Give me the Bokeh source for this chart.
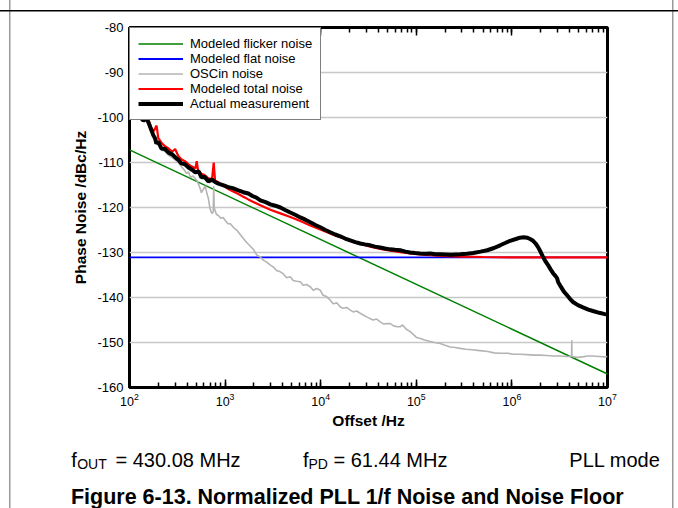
from bokeh.plotting import figure
from bokeh.models import (Range1d, LogAxis, LogTicker, FixedTicker, Legend, LegendItem, Label,
                          PrintfTickFormatter)
from bokeh.layouts import column
from bokeh.embed import file_html
from bokeh.resources import INLINE

# ---------------- data ----------------
flicker_f = [1e2, 1e7]
flicker_db = [-107.2, -157.0]

flat_f = [1e2, 1e7]
flat_db = [-131.1, -131.1]

oscin_f = [100, 115, 130, 140, 150, 160, 170, 180, 191, 205, 216, 235, 256, 280, 303, 325, 349,
           372, 394, 415, 433, 460, 490, 510, 527, 545, 565, 590, 622, 645, 669, 690, 703, 730,
           752, 760, 770, 785, 810, 851, 900, 950, 1007, 1070, 1135, 1230, 1333, 1440, 1553,
           1700, 1837, 1990, 2150, 2339, 2509, 2750, 2974, 3182, 3450, 3783, 4050, 4400, 4811,
           5150, 5600, 6118, 6560, 7100, 7781, 8350, 9100, 9900, 10600, 11500, 12590, 13500,
           14800, 16020, 17200, 18700, 20370, 21900, 23800, 25920, 27800, 30200, 32970, 35400,
           38500, 41950, 45600, 49800, 53350, 58000, 63400, 67870, 72000, 78000, 86330, 93000,
           101000, 109800, 120000, 130000, 139700, 155000, 177800, 200000, 226000, 255000,
           287700, 330000, 380000, 465000, 560000, 650000, 753400, 900000, 1.05e6, 1.218e6,
           1.45e6, 1.7e6, 1.97e6, 2.3e6, 2.7e6, 3.19e6, 3.7e6, 4.21e6, 4.23e6, 4.25e6, 4.8e6,
           5.5e6, 6.2e6, 7.0e6, 8.2e6, 9.4e6, 1.0e7]
oscin_db = [-96.8, -98.6, -100.2, -100.9, -100.6, -101.6, -103.0, -104.2, -105.4, -106.2,
            -107.2, -107.5, -108.4, -108.9, -109.5, -110.1, -110.9, -111.6, -112.4, -112.1,
            -113.3, -113.0, -113.6, -114.1, -114.8, -115.6, -116.7, -116.0, -115.2, -116.9,
            -118.0, -119.8, -120.6, -121.3, -121.0, -115.3, -120.2, -120.6, -121.5, -121.8,
            -122.4, -122.2, -122.9, -123.6, -123.6, -124.5, -125.1, -126.0, -126.9, -127.9,
            -128.6, -129.4, -130.6, -131.0, -131.7, -132.2, -132.8, -133.2, -134.0, -134.3,
            -134.7, -135.6, -135.4, -136.2, -136.4, -136.5, -137.3, -137.1, -137.6, -138.4,
            -138.0, -138.4, -139.5, -139.8, -140.6, -141.4, -141.2, -142.1, -142.4, -142.2,
            -142.8, -143.2, -143.0, -143.5, -143.9, -144.3, -144.7, -145.0, -144.8, -145.4,
            -145.9, -145.8, -145.8, -146.3, -146.5, -146.5, -146.1, -147.0, -147.6, -148.2,
            -148.9, -149.1, -149.4, -149.6, -149.8, -150.0, -150.2, -150.6, -151.0, -151.1,
            -151.3, -151.5, -151.6, -151.8, -152.0, -152.3, -152.4, -152.4, -152.6, -152.6,
            -152.7, -152.8, -152.8, -152.9, -153.0, -153.0, -153.1, -153.1, -149.5, -153.1,
            -153.3, -153.2, -153.0, -153.0, -153.1, -153.2, -153.1]

total_f = [100, 115, 130, 140, 150, 160, 170, 180, 192, 200, 216, 235, 256, 280, 300, 325, 349,
           380, 414, 450, 490, 505, 520, 565, 610, 669, 730, 760, 785, 850, 915, 1000, 1083,
           1200, 1376, 1550, 1751, 1950, 2339, 2974, 3783, 4811, 6118, 7781, 9900, 12590,
           16020, 20370, 25920, 32970, 41950, 53350, 67870, 86330, 109800, 139700, 200000,
           300000, 500000, 1e6, 1e7]
total_db = [-96.3, -98.0, -99.5, -100.2, -99.8, -100.9, -102.4, -103.0, -101.8, -104.6,
            -105.6, -106.4, -106.9, -107.6, -107.0, -108.6, -109.3, -109.7, -110.4, -110.9,
            -111.3, -109.7, -111.6, -112.5, -112.8, -113.5, -113.7, -110.0, -114.0, -114.4,
            -114.9, -115.4, -115.9, -116.4, -117.0, -117.6, -118.2, -118.7, -119.5, -120.5,
            -121.3, -122.1, -123.0, -124.0, -124.9, -125.8, -126.6, -127.3, -128.1, -128.7,
            -129.2, -129.6, -129.9, -130.2, -130.4, -130.6, -130.8, -130.9, -131.0, -131.1,
            -131.1]

meas_f = [100, 115, 130, 140, 150, 158, 168, 178, 185, 191, 200, 216, 235, 256, 280, 303, 325,
          349, 380, 414, 450, 490, 530, 565, 610, 669, 730, 793, 850, 915, 1000, 1083, 1200,
          1376, 1550, 1751, 1950, 2124, 2339, 2650, 2974, 3350, 3783, 4300, 4811, 5400, 6118,
          6900, 7781, 8800, 9900, 11200, 12590, 14200, 16020, 18000, 20370, 23000, 25920,
          29000, 32970, 37000, 41950, 47000, 53350, 60000, 67870, 77000, 86330, 97000, 109800,
          125000, 139700, 158000, 177800, 230000, 287700, 340000, 393700, 470000, 551000,
          650000, 753400, 850000, 957800, 1.1e6, 1.218e6, 1.33e6, 1.442e6, 1.55e6, 1.666e6,
          1.77e6, 1.879e6, 2.0e6, 2.119e6, 2.25e6, 2.39e6, 2.55e6, 2.696e6, 2.85e6, 2.966e6,
          3.05e6, 3.188e6, 3.5e6, 3.777e6, 4.05e6, 4.359e6, 4.9e6, 5.541e6, 6.3e6, 7.047e6,
          8.2e6, 9.4e6, 1.0e7]
meas_db = [-96.5, -98.5, -100.0, -100.7, -100.2, -101.1, -102.6, -104.0, -104.6, -105.8,
           -105.4, -106.9, -107.0, -107.8, -108.2, -108.9, -109.4, -110.2, -110.4, -111.1,
           -111.6, -112.2, -112.0, -113.3, -113.2, -114.2, -113.8, -114.4, -114.7, -114.9,
           -115.2, -115.5, -115.7, -116.2, -116.6, -116.9, -117.5, -117.8, -118.4, -118.8,
           -119.3, -119.6, -120.0, -120.6, -121.1, -121.6, -122.2, -122.7, -123.3, -123.9,
           -124.4, -125.0, -125.5, -126.0, -126.4, -126.9, -127.3, -127.7, -128.0, -128.2,
           -128.4, -128.7, -128.9, -129.1, -129.3, -129.4, -129.5, -129.8, -130.0, -130.1,
           -130.2, -130.3, -130.2, -130.4, -130.4, -130.5, -130.4, -130.3, -130.1, -129.8,
           -129.5, -129.0, -128.4, -127.9, -127.4, -127.0, -126.7, -126.6, -126.7, -127.0,
           -127.4, -128.0, -128.8, -129.9, -131.0, -132.0, -132.8, -133.8, -134.6, -135.2,
           -135.7, -136.6, -137.3, -138.7, -139.5, -140.3, -141.0, -141.7, -142.2, -142.7,
           -143.0, -143.4, -143.7, -143.8]

y_ticks = [-160, -150, -140, -130, -120, -110, -100, -90, -80]

legend_labels = ["Modeled flicker noise", "Modeled flat noise", "OSCin noise",
                 "Modeled total noise", "Actual measurement"]

FONT = "Liberation Sans"

# ---------------- chart ----------------
p = figure(width=678, height=440, x_axis_type="log",
           x_range=Range1d(1e2, 1e7), y_range=Range1d(-160, -80),
           output_backend="svg", toolbar_location=None,
           min_border_left=129, min_border_right=71, min_border_top=27, min_border_bottom=53,
           background_fill_color="white", border_fill_color=None)
p.frame_align = False

p.outline_line_color = "black"
p.outline_line_width = 3
p.outline_line_alpha = 1

p.xgrid.visible = False
p.ygrid.grid_line_color = "#c8c8c8"
p.ygrid.grid_line_width = 1.5

xa = p.xaxis[0]
xa.ticker = LogTicker(num_minor_ticks=10)
xa.axis_line_color = None
xa.major_tick_in = 8
xa.major_tick_out = 0
xa.minor_tick_in = 5
xa.minor_tick_out = 0
xa.major_tick_line_width = 1.5
xa.minor_tick_line_width = 1.5
xa.major_tick_line_color = "black"
xa.minor_tick_line_color = "black"
xa.major_label_text_font = FONT
xa.major_label_text_font_size = "12.5px"
xa.major_label_text_color = "black"
xa.major_label_standoff = 5
xa.axis_label = "Offset /Hz"
xa.axis_label_text_font = FONT
xa.axis_label_text_font_style = "bold"
xa.axis_label_text_font_size = "15.5px"
xa.axis_label_text_color = "black"
xa.axis_label_standoff = 3

top = LogAxis(ticker=LogTicker(num_minor_ticks=10), axis_line_color=None,
              major_tick_in=8, major_tick_out=0, minor_tick_in=5, minor_tick_out=0,
              major_tick_line_width=1.5, minor_tick_line_width=1.5,
              major_label_text_font_size="6px", major_label_text_alpha=0,
              major_label_standoff=0)
p.add_layout(top, "above")

ya = p.yaxis[0]
ya.ticker = FixedTicker(ticks=y_ticks, minor_ticks=[])
ya.formatter = PrintfTickFormatter(format="%d")
ya.axis_line_color = None
ya.major_tick_in = 0
ya.major_tick_out = 0
ya.minor_tick_in = 0
ya.minor_tick_out = 0
ya.major_label_text_font = FONT
ya.major_label_text_font_size = "13px"
ya.major_label_text_color = "black"
ya.major_label_standoff = 6
ya.axis_label = "Phase Noise /dBc/Hz"
ya.axis_label_text_font = FONT
ya.axis_label_text_font_style = "bold"
ya.axis_label_text_font_size = "15.5px"
ya.axis_label_text_color = "black"
ya.axis_label_standoff = 5

r_flicker = p.line(flicker_f, flicker_db, line_color="#008000", line_width=1.5)
r_flat = p.line(flat_f, flat_db, line_color="#0000ff", line_width=1.8)
r_osc = p.line(oscin_f, oscin_db, line_color="#b4b4b4", line_width=1.6)
r_total = p.line(total_f, total_db, line_color="#ff0000", line_width=2.2)
r_meas = p.line(meas_f, meas_db, line_color="black", line_width=4)

legend = Legend(items=[LegendItem(label=legend_labels[0], renderers=[r_flicker]),
                       LegendItem(label=legend_labels[1], renderers=[r_flat]),
                       LegendItem(label=legend_labels[2], renderers=[r_osc]),
                       LegendItem(label=legend_labels[3], renderers=[r_total]),
                       LegendItem(label=legend_labels[4], renderers=[r_meas])],
                location="top_left", margin=0, padding=8, spacing=0,
                glyph_width=45, glyph_height=15, label_height=15, label_standoff=7,
                label_text_font=FONT, label_text_font_size="13px", label_text_color="black",
                border_line_color="black", border_line_width=1.5,
                background_fill_color="white", background_fill_alpha=1)
p.add_layout(legend)

# ---------------- condition line and caption (own strip below the chart) ----------------
q = figure(width=678, height=68, x_range=Range1d(0, 678), y_range=Range1d(68, 0),
           output_backend="svg", toolbar_location=None,
           min_border_left=0, min_border_right=0, min_border_top=0, min_border_bottom=0,
           background_fill_color=None, border_fill_color=None,
           x_axis_location=None, y_axis_location=None)
q.frame_align = False
q.grid.visible = False
q.outline_line_color = None


def lab(x, y, text, size, bold=False, align="left"):
    q.add_layout(Label(x=x, y=y, text=text,
                       text_font=FONT, text_font_size=size, text_color="black",
                       text_font_style="bold" if bold else "normal",
                       text_align=align, text_baseline="alphabetic"))


lab(70.7, 19.3, "f", "20px")
lab(76.7, 23.3, "OUT", "14px")
lab(115.0, 19.3, "= 430.08 MHz", "20px")
lab(302.5, 19.3, "f", "20px")
lab(308.0, 23.3, "PD", "14px")
lab(333.0, 19.3, "= 61.44 MHz", "20px")
lab(660.0, 19.3, "PLL mode", "20px", align="right")
lab(347.0, 56.7, "Figure 6-13. Normalized PLL 1/f Noise and Noise Floor", "21.5px",
    bold=True, align="center")

frame_css = {
    "background-image": "linear-gradient(#000,#000), linear-gradient(#9a9a9a,#9a9a9a), "
                        "linear-gradient(#9a9a9a,#9a9a9a)",
    "background-size": "100% 1.5px, 1.5px 100%, 1.5px 100%",
    "background-position": "0px 9.5px, 8.5px 0px, 671.5px 0px",
    "background-repeat": "no-repeat",
    "background-color": "white",
}
layout = column(p, q, spacing=0, styles=frame_css)

open("out.html", "w").write(file_html(layout, INLINE))
